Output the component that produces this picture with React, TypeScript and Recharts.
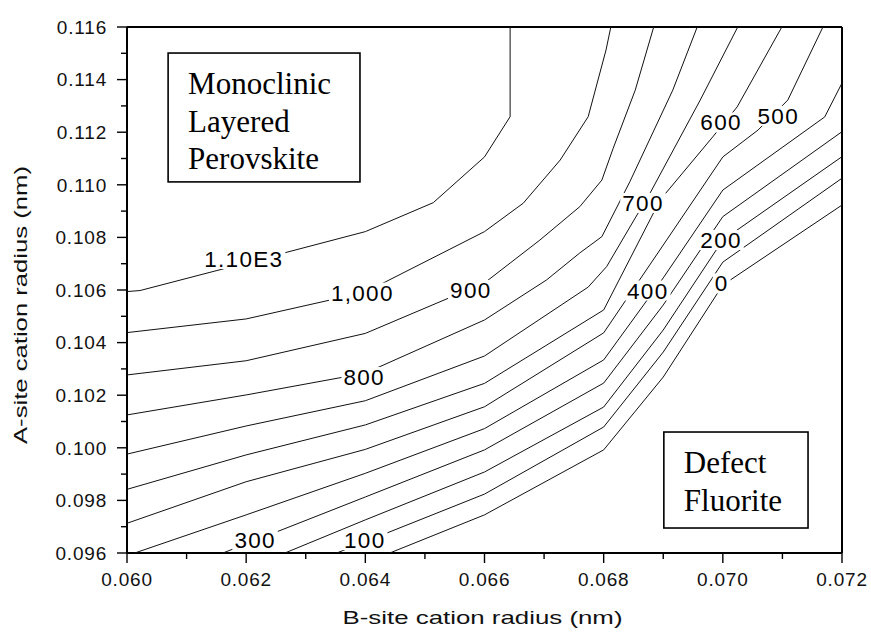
import {
  ScatterChart,
  Scatter,
  XAxis,
  YAxis,
  ReferenceLine,
  ReferenceDot,
  ReferenceArea,
} from 'recharts';

type Pt = { x: number; y: number };

const SANS = 'Liberation Sans, Arial, sans-serif';
const SERIF = 'Liberation Serif, Times New Roman, serif';

// contour lines (x = B-site, y = A-site radius, nm)
const c1100: Pt[] = [
  { x: 0.06, y: 0.10594 }, { x: 0.06022, y: 0.10598 }, { x: 0.062, y: 0.10703 },
  { x: 0.064, y: 0.10822 }, { x: 0.06514, y: 0.10932 }, { x: 0.066, y: 0.11106 },
  { x: 0.06643, y: 0.11259 }, { x: 0.06643, y: 0.116 },
];
const c1000: Pt[] = [
  { x: 0.06, y: 0.10438 }, { x: 0.062, y: 0.1049 }, { x: 0.064, y: 0.10592 },
  { x: 0.066, y: 0.10822 }, { x: 0.06665, y: 0.1093 }, { x: 0.06727, y: 0.11094 },
  { x: 0.06774, y: 0.11259 }, { x: 0.06804, y: 0.11513 }, { x: 0.06812, y: 0.116 },
];
const c900: Pt[] = [
  { x: 0.06, y: 0.10277 }, { x: 0.062, y: 0.10331 }, { x: 0.064, y: 0.10435 },
  { x: 0.066, y: 0.10627 }, { x: 0.06693, y: 0.1079 }, { x: 0.0676, y: 0.10917 },
  { x: 0.06797, y: 0.11018 }, { x: 0.06816, y: 0.11139 }, { x: 0.06853, y: 0.1136 },
  { x: 0.06884, y: 0.116 },
];
const c800: Pt[] = [
  { x: 0.06, y: 0.10125 }, { x: 0.062, y: 0.10201 }, { x: 0.064, y: 0.10284 },
  { x: 0.066, y: 0.10486 }, { x: 0.06704, y: 0.10638 }, { x: 0.0676, y: 0.10741 },
  { x: 0.06797, y: 0.10803 }, { x: 0.06844, y: 0.11012 }, { x: 0.06916, y: 0.1136 },
  { x: 0.06957, y: 0.116 },
];
const c700: Pt[] = [
  { x: 0.06, y: 0.09976 }, { x: 0.062, y: 0.10083 }, { x: 0.064, y: 0.10179 },
  { x: 0.066, y: 0.10349 }, { x: 0.06774, y: 0.10611 }, { x: 0.06805, y: 0.10689 },
  { x: 0.06853, y: 0.10874 }, { x: 0.06878, y: 0.10969 }, { x: 0.06962, y: 0.11322 },
  { x: 0.07025, y: 0.116 },
];
const c600: Pt[] = [
  { x: 0.06, y: 0.09842 }, { x: 0.062, y: 0.09973 }, { x: 0.064, y: 0.10087 },
  { x: 0.066, y: 0.10245 }, { x: 0.068, y: 0.10524 }, { x: 0.06895, y: 0.10943 },
  { x: 0.06983, y: 0.11182 }, { x: 0.07024, y: 0.11296 }, { x: 0.07099, y: 0.116 },
];
const c500: Pt[] = [
  { x: 0.06, y: 0.09713 }, { x: 0.062, y: 0.09871 }, { x: 0.064, y: 0.09994 },
  { x: 0.066, y: 0.10156 }, { x: 0.068, y: 0.10437 }, { x: 0.069, y: 0.10771 },
  { x: 0.07, y: 0.11106 }, { x: 0.07059, y: 0.11208 }, { x: 0.07109, y: 0.11322 },
  { x: 0.07168, y: 0.116 },
];
const c400: Pt[] = [
  { x: 0.06013, y: 0.096 }, { x: 0.062, y: 0.09745 }, { x: 0.064, y: 0.09903 },
  { x: 0.066, y: 0.10073 }, { x: 0.068, y: 0.10334 }, { x: 0.069, y: 0.10646 },
  { x: 0.07, y: 0.1098 }, { x: 0.07171, y: 0.11258 }, { x: 0.072, y: 0.11387 },
];
const c300: Pt[] = [
  { x: 0.06161, y: 0.096 }, { x: 0.064, y: 0.09813 }, { x: 0.066, y: 0.09992 },
  { x: 0.068, y: 0.10246 }, { x: 0.069, y: 0.10543 }, { x: 0.07, y: 0.10879 },
  { x: 0.072, y: 0.11202 },
];
const c200: Pt[] = [
  { x: 0.06265, y: 0.096 }, { x: 0.064, y: 0.09726 }, { x: 0.066, y: 0.09908 },
  { x: 0.068, y: 0.10155 }, { x: 0.069, y: 0.10448 }, { x: 0.07, y: 0.1079 },
  { x: 0.072, y: 0.11107 },
];
const c100: Pt[] = [
  { x: 0.06352, y: 0.096 }, { x: 0.066, y: 0.09824 }, { x: 0.068, y: 0.10079 },
  { x: 0.069, y: 0.10364 }, { x: 0.07, y: 0.10706 }, { x: 0.072, y: 0.11025 },
];
const c0: Pt[] = [
  { x: 0.06441, y: 0.096 }, { x: 0.066, y: 0.09745 }, { x: 0.068, y: 0.09992 },
  { x: 0.069, y: 0.10269 }, { x: 0.07, y: 0.10619 }, { x: 0.072, y: 0.10923 },
];

const CONTOURS = [c1100, c1000, c900, c800, c700, c600, c500, c400, c300, c200, c100, c0];

const LABELS = [
  { text: '1.10E3', x: 0.06196, y: 0.10718 },
  { text: '1,000', x: 0.06395, y: 0.1059 },
  { text: '900', x: 0.06577, y: 0.106 },
  { text: '800', x: 0.06398, y: 0.10269 },
  { text: '700', x: 0.06866, y: 0.10931 },
  { text: '600', x: 0.06997, y: 0.11237 },
  { text: '500', x: 0.07093, y: 0.11262 },
  { text: '400', x: 0.06874, y: 0.10598 },
  { text: '300', x: 0.06215, y: 0.09649 },
  { text: '200', x: 0.06997, y: 0.1079 },
  { text: '100', x: 0.06399, y: 0.09649 },
  { text: '0', x: 0.06998, y: 0.10625 },
];

const X_TICKS = [
  0.06, 0.061, 0.062, 0.063, 0.064, 0.065, 0.066, 0.067, 0.068, 0.069, 0.07, 0.071, 0.072,
];
const Y_TICKS = [
  0.096, 0.097, 0.098, 0.099, 0.1, 0.101, 0.102, 0.103, 0.104, 0.105, 0.106,
  0.107, 0.108, 0.109, 0.11, 0.111, 0.112, 0.113, 0.114, 0.115, 0.116,
];

const PEROVSKITE_TEXT = ['Monoclinic', 'Layered', 'Perovskite'];
const FLUORITE_TEXT = ['Defect', 'Fluorite'];

const isMajor = (v: number) => Math.round(v * 1000) % 2 === 0;

function XTick({ x, y, payload }: any) {
  const v = payload.value as number;
  const major = isMajor(v);
  return (
    <g>
      <line x1={x} y1={y} x2={x} y2={y + (major ? 10 : 6)} stroke="#000" strokeWidth={1.4} />
      {major && (
        <text x={x} y={y + 33} textAnchor="middle" fontFamily={SANS} fontSize={19}
          letterSpacing={0.8} fill="#111">
          {v.toFixed(3)}
        </text>
      )}
    </g>
  );
}

function YTick({ x, y, payload }: any) {
  const v = payload.value as number;
  const major = isMajor(v);
  return (
    <g>
      <line x1={x} y1={y} x2={x - (major ? 10 : 6)} y2={y} stroke="#000" strokeWidth={1.4} />
      {major && (
        <text x={x - 20} y={y + 6.8} textAnchor="end" fontFamily={SANS} fontSize={19}
          letterSpacing={0.8} fill="#111">
          {v.toFixed(3)}
        </text>
      )}
    </g>
  );
}

// rough Arial advance widths, to size the white gap behind a label
const labelWidth = (s: string, fs: number, ls: number) =>
  s.split('').reduce((w, ch) => w + (ch === '.' || ch === ',' ? 0.278 : ch === 'E' ? 0.667 : 0.556) * fs + ls, 0);

function ContourLabel({ cx, cy, text }: { cx: number; cy: number; text: string }) {
  const w = labelWidth(text, 22.5, 1.3);
  return (
    <g>
      <rect x={cx - w / 2 - 2} y={cy - 10} width={w + 4} height={20} fill="#fff" />
      <text x={cx} y={cy + 8} textAnchor="middle" fontFamily={SANS} fontSize={22.5}
        letterSpacing={1.3} fill="#000">
        {text}
      </text>
    </g>
  );
}

function RegionBox({ x, y, width, height, lines }: any) {
  return (
    <g>
      <rect x={x} y={y} width={width} height={height} fill="#fff" stroke="#000" strokeWidth={1.6} />
      {lines.map((t: string, i: number) => (
        <text key={t} x={x + 20} y={y + 41 + i * 37.5} fontFamily={SERIF} fontSize={31} fill="#000">
          {t}
        </text>
      ))}
    </g>
  );
}

export default function App() {
  return (
    <div style={{ position: 'absolute', left: 0, top: 0, background: '#fff' }}>
      <ScatterChart width={871} height={633} margin={{ top: 27, right: 29, bottom: 0, left: 0 }}>
        <XAxis
          type="number"
          dataKey="x"
          domain={[0.06, 0.072]}
          allowDataOverflow
          ticks={X_TICKS}
          interval={0}
          height={80}
          tickSize={0}
          tickMargin={0}
          tickLine={false}
          tick={<XTick />}
          axisLine={{ stroke: '#000', strokeWidth: 2 }}
          label={{
            content: ({ viewBox }: any) => (
              <text x={viewBox.x + viewBox.width / 2 - 2} y={viewBox.y + 71} textAnchor="middle"
                fontFamily={SANS} fontSize={19} textLength={280} lengthAdjust="spacingAndGlyphs"
                fill="#111">
                B-site cation radius (nm)
              </text>
            ),
          }}
        />
        <YAxis
          type="number"
          dataKey="y"
          domain={[0.096, 0.116]}
          allowDataOverflow
          ticks={Y_TICKS}
          interval={0}
          width={127}
          tickSize={0}
          tickMargin={0}
          tickLine={false}
          tick={<YTick />}
          axisLine={{ stroke: '#000', strokeWidth: 2 }}
          label={{
            content: () => (
              <text x={27} y={305} transform="rotate(-90, 27, 305)" textAnchor="middle"
                fontFamily={SANS} fontSize={19} textLength={278} lengthAdjust="spacingAndGlyphs"
                fill="#111">
                A-site cation radius (nm)
              </text>
            ),
          }}
        />
        {CONTOURS.map((pts, i) => (
          <Scatter
            key={i}
            data={pts}
            line={{ stroke: '#111', strokeWidth: 1 }}
            shape={() => <g />}
            fill="#111"
            isAnimationActive={false}
          />
        ))}
        <ReferenceLine y={0.116} stroke="#000" strokeWidth={2} />
        <ReferenceLine x={0.072} stroke="#000" strokeWidth={2} />
        {LABELS.map((l) => (
          <ReferenceDot
            key={l.text}
            x={l.x}
            y={l.y}
            r={1}
            zIndex={1000}
            shape={(p: any) => <ContourLabel cx={p.cx} cy={p.cy} text={l.text} />}
          />
        ))}
        <ReferenceArea
          x1={0.06069}
          x2={0.06391}
          y1={0.11011}
          y2={0.11501}
          zIndex={1000}
          shape={(p: any) => <RegionBox {...p} lines={PEROVSKITE_TEXT} />}
        />
        <ReferenceArea
          x1={0.06901}
          x2={0.07143}
          y1={0.09695}
          y2={0.1006}
          zIndex={1000}
          shape={(p: any) => <RegionBox {...p} lines={FLUORITE_TEXT} />}
        />
      </ScatterChart>
    </div>
  );
}
